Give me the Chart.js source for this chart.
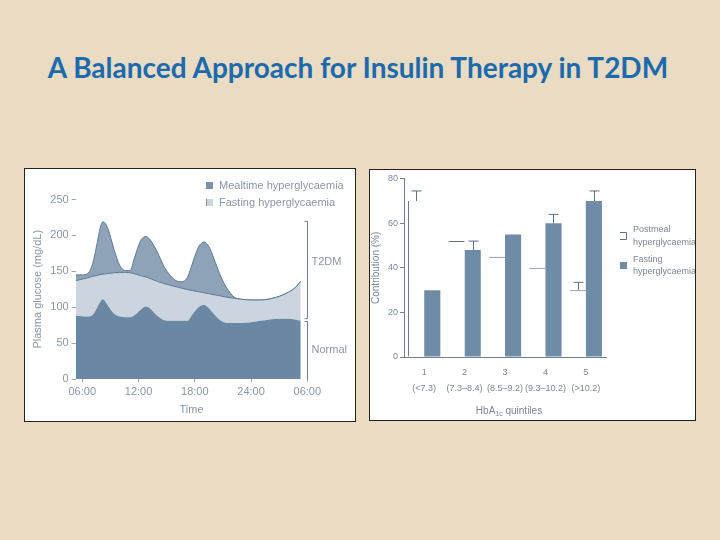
<!DOCTYPE html>
<html lang="en">
<head>
  <meta charset="UTF-8" />
  <title>A Balanced Approach for Insulin Therapy in T2DM</title>
  <script src="https://cdn.jsdelivr.net/npm/chart.js"></script>
  <style>
    body {
      margin: 0;
      width: 720px;
      height: 540px;
      background-color: #e9dcc3;
      position: relative;
      overflow: hidden;
    }
    h1 {
      position: absolute;
      left: 0;
      width: 716px;
      top: 50px;
      margin: 0;
      text-align: center;
      font-family: Lato, "Open Sans", sans-serif;
      font-weight: bold;
      font-size: 28px;
      color: #1c6aad;
    }
    .panel {
      position: absolute;
      background: #fff;
      border: 1px solid #222;
    }
    #leftPanel { left: 24px; top: 168px; width: 330px; height: 252px; }
    #rightPanel { left: 369px; top: 169px; width: 325px; height: 250px; }
    canvas { display: block; }
  </style>
</head>
<body>
  <h1>A Balanced Approach for Insulin Therapy in T2DM</h1>
  <div class="panel" id="leftPanel"><canvas id="glucoseChart" width="330" height="252"></canvas></div>
  <div class="panel" id="rightPanel"><canvas id="shareChart" width="325" height="250"></canvas></div>

  <script>
    // left chart: hours after 06:00 and glucose levels (mg/dL)
    const hours = [-0.7, 0, 0.6, 1.1, 1.6, 1.9, 2.2, 2.5, 2.8, 3.4, 4.0, 4.6, 5.1, 5.6, 6.2, 6.5, 6.8, 7.1, 7.4, 8.0, 8.7, 9.4,
      10.0, 10.6, 11.2, 11.8, 12.4, 12.7, 13.0, 13.3, 13.6, 14.2, 14.8, 15.4, 16.2, 17.0, 18.0, 19.0, 20.0, 21.0, 22.0, 22.7, 23.3];
    const normalGlucose = [88, 87.5, 87, 89, 100, 107, 111, 107, 101, 91, 87, 86, 86, 89, 96, 99.5, 101, 99.5, 96, 88, 82, 81,
      81, 81, 81, 91, 100, 102.5, 103, 101, 97, 88, 81, 78, 78, 78, 79, 81, 83, 84, 84, 83, 81];
    const fastingGlucose = [137, 139, 141, 143, 144.5, 145.3, 146, 146.5, 147, 148, 148.5, 148.5, 148, 146.5, 144, 143, 142, 140.5, 139, 136, 133, 130.5,
      128.5, 126.5, 124.5, 123, 121.5, 120.8, 120, 119.3, 118.5, 117, 115.5, 114, 112.5, 111, 110, 110, 111.5, 115, 121, 127, 136];
    const mealtimeGlucose = [145, 145, 147, 160, 190, 210, 219, 216, 207, 180, 158, 151, 151, 170, 192, 197, 198.5, 196, 191, 177, 157, 144,
      137, 135.5, 141, 163, 184, 189, 191, 188, 182, 162, 142, 127, 114, 111, 110, 110, 111.5, 115, 121, 127, 136];
    const timeTicks = [0, 6, 12, 18, 24];
    const timeLabels = ['06:00', '12:00', '18:00', '24:00', '06:00'];

    // right chart: HbA1c quintiles and contribution (%)
    const quintiles = [['1', '(<7.3)'], ['2', '(7.3–8.4)'], ['3', '(8.5–9.2)'], ['4', '(9.3–10.2)'], ['5', '(>10.2)']];
    const postmealShare = [70, 52, 45, 40, 30];
    const fastingShare = [30, 48, 55, 60, 70];
    const postmealError = [4.5, 0, 0, 0, 3.5];
    const fastingError = [0, 4, 0, 4, 4.5];

    const grey = '#8a96a3';
    const sans = 'Liberation Sans, Arial, sans-serif';

    const toPoints = vals => vals.map((v, i) => ({ x: hours[i], y: v }));

    // legend, brackets and labels of the glucose chart
    const glucoseExtras = {
      id: 'glucoseExtras',
      afterDraw(chart) {
        const ctx = chart.ctx;
        const x = chart.scales.x, y = chart.scales.y;
        ctx.save();
        ctx.font = '11px ' + sans;
        ctx.textBaseline = 'middle';
        ctx.fillStyle = grey;
        ctx.fillText('Mealtime hyperglycaemia', 194, 17);
        ctx.fillText('Fasting hyperglycaemia', 194, 34);
        ctx.fillStyle = '#7d93aa';
        ctx.fillRect(181, 13, 7, 7);
        ctx.fillStyle = '#cbd5df';
        ctx.fillRect(181, 30, 7, 7);
        ctx.strokeStyle = '#7d8fa2';
        ctx.lineWidth = 1;
        ctx.beginPath();
        ctx.moveTo(181.5, 30); ctx.lineTo(181.5, 37);
        ctx.stroke();

        // brackets
        const bx = Math.round(x.getPixelForValue(24)) + 0.5;
        ctx.strokeStyle = '#6d7f92';
        [[84, 219.6], [0, 80]].forEach(([lo, hi], i) => {
          const yl = y.getPixelForValue(lo), yh = y.getPixelForValue(hi);
          ctx.beginPath();
          ctx.moveTo(bx - 3, yh); ctx.lineTo(bx, yh); ctx.lineTo(bx, yl);
          if (i === 0) ctx.lineTo(bx - 3, yl);
          ctx.stroke();
        });
        ctx.fillStyle = grey;
        ctx.fillText('T2DM', bx + 4, y.getPixelForValue(163));
        ctx.fillText('Normal', bx + 4, y.getPixelForValue(40));
        ctx.restore();
      }
    };

    new Chart(document.getElementById('glucoseChart'), {
      type: 'line',
      data: {
        datasets: [
          {
            label: 'Normal',
            data: toPoints(normalGlucose),
            backgroundColor: '#6a87a3',
            borderWidth: 0,
            fill: 'origin'
          },
          {
            label: 'Fasting hyperglycaemia',
            data: toPoints(fastingGlucose),
            backgroundColor: '#cbd5df',
            borderColor: '#5f7892',
            borderWidth: 1,
            fill: '-1'
          },
          {
            label: 'Mealtime hyperglycaemia',
            data: toPoints(mealtimeGlucose),
            backgroundColor: '#8fa3b8',
            borderColor: '#5f7892',
            borderWidth: 1,
            fill: '-1'
          }
        ]
      },
      options: {
        responsive: false,
        animation: false,
        cubicInterpolationMode: 'monotone',
        elements: { point: { radius: 0 } },
        layout: { padding: { top: 30.5, right: 47.7, left: 0, bottom: 0 } },
        plugins: { legend: { display: false }, tooltip: { enabled: false } },
        scales: {
          x: {
            type: 'linear',
            min: -0.7,
            max: 24,
            afterBuildTicks: s => { s.ticks = timeTicks.map(v => ({ value: v })); },
            afterFit: s => { s.height = 42; },
            ticks: {
              color: grey,
              font: { family: sans, size: 11 },
              padding: 3,
              maxRotation: 0,
              callback: v => timeLabels[timeTicks.indexOf(v)]
            },
            grid: { drawOnChartArea: false, tickLength: 3, color: '#9aa6b2' },
            border: { display: false },
            title: { display: true, text: 'Time', color: grey, font: { family: sans, size: 11 }, padding: { top: 1 } }
          },
          y: {
            min: 0,
            max: 250,
            afterFit: s => { s.width = 50.7; },
            ticks: { stepSize: 50, color: grey, font: { family: sans, size: 11 }, padding: 3 },
            grid: { drawOnChartArea: false, tickLength: 4, color: '#9aa6b2' },
            border: { display: false },
            title: { display: true, text: 'Plasma glucose (mg/dL)', color: grey, font: { family: sans, size: 11 }, padding: { bottom: 0, top: 6 } }
          }
        }
      },
      plugins: [glucoseExtras]
    });

    // error bars, legend and subscripted axis title of the contribution chart
    const shareExtras = {
      id: 'shareExtras',
      afterDatasetsDraw(chart) {
        const ctx = chart.ctx, y = chart.scales.y;
        const errors = [postmealError, fastingError];
        ctx.save();
        ctx.strokeStyle = '#5d6f82';
        ctx.lineWidth = 1;
        chart.data.datasets.forEach((ds, di) => {
          chart.getDatasetMeta(di).data.forEach((bar, i) => {
            const err = errors[di][i];
            if (!err) return;
            const bx = Math.round(bar.x) + 0.5;
            const top = y.getPixelForValue(ds.data[i] + err);
            ctx.beginPath();
            ctx.moveTo(bx, bar.y); ctx.lineTo(bx, top);
            ctx.moveTo(bx - 5, top); ctx.lineTo(bx + 5, top);
            ctx.stroke();
          });
        });
        ctx.restore();
      },
      afterDraw(chart) {
        const ctx = chart.ctx, area = chart.chartArea;
        ctx.save();
        ctx.fillStyle = '#7a8796';
        ctx.textBaseline = 'middle';
        ctx.font = '9px ' + sans;
        ctx.fillText('Postmeal', 263, 60);
        ctx.fillText('hyperglycaemia', 263, 73);
        ctx.fillText('Fasting', 263, 90);
        ctx.fillText('hyperglycaemia', 263, 102);
        ctx.strokeStyle = '#5d6f82';
        ctx.beginPath();
        ctx.moveTo(250, 62.5); ctx.lineTo(256.5, 62.5); ctx.lineTo(256.5, 69.5); ctx.lineTo(250, 69.5);
        ctx.stroke();
        ctx.fillStyle = '#6f8ba5';
        ctx.fillRect(250, 92, 7, 7);

        // x title with subscript
        const main = '10px ' + sans, sub = '7px ' + sans;
        ctx.font = main;
        const w1 = ctx.measureText('HbA').width, w3 = ctx.measureText(' quintiles').width;
        ctx.font = sub;
        const w2 = ctx.measureText('1c').width;
        let tx = (area.left + area.right) / 2 + 4 - (w1 + w2 + w3) / 2;
        const ty = 241;
        ctx.fillStyle = '#7a8796';
        ctx.font = main;
        ctx.fillText('HbA', tx, ty);
        ctx.font = sub;
        ctx.fillText('1c', tx + w1, ty + 3);
        ctx.font = main;
        ctx.fillText(' quintiles', tx + w1 + w2, ty);
        ctx.restore();
      }
    };

    new Chart(document.getElementById('shareChart'), {
      type: 'bar',
      data: {
        labels: quintiles,
        datasets: [
          {
            label: 'Postmeal hyperglycaemia',
            data: postmealShare,
            backgroundColor: '#ffffff',
            borderColor: '#5d6f82',
            borderWidth: c => ({ top: c.dataIndex === 0 ? 0 : 1, left: c.dataIndex === 0 ? 1 : 0, right: 0, bottom: 0 }),
            borderSkipped: false
          },
          {
            label: 'Fasting hyperglycaemia',
            data: fastingShare,
            backgroundColor: '#6f8ba5',
            borderWidth: 0
          }
        ]
      },
      options: {
        responsive: false,
        animation: false,
        categoryPercentage: 0.8,
        barPercentage: 1,
        layout: { padding: { top: 8.7, right: 89, left: 0, bottom: 0 } },
        plugins: { legend: { display: false }, tooltip: { enabled: false } },
        scales: {
          x: {
            afterFit: s => { s.height = 63; },
            ticks: { color: '#7a8796', font: { family: sans, size: 9, lineHeight: 1.8 }, padding: 7, maxRotation: 0, autoSkip: false },
            grid: { display: false, drawTicks: false },
            border: { display: true, color: '#6d7f92' }
          },
          y: {
            min: 0,
            max: 80,
            afterFit: s => { s.width = 34; },
            ticks: { stepSize: 20, color: '#7a8796', font: { family: sans, size: 9 }, padding: 2 },
            grid: { drawOnChartArea: false, tickLength: 4, color: '#6d7f92' },
            border: { display: true, color: '#6d7f92' },
            title: { display: true, text: 'Contribution (%)', color: '#7a8796', font: { family: sans, size: 10 }, padding: { top: 0, bottom: 0 } }
          }
        }
      },
      plugins: [shareExtras]
    });
  </script>
</body>
</html>
